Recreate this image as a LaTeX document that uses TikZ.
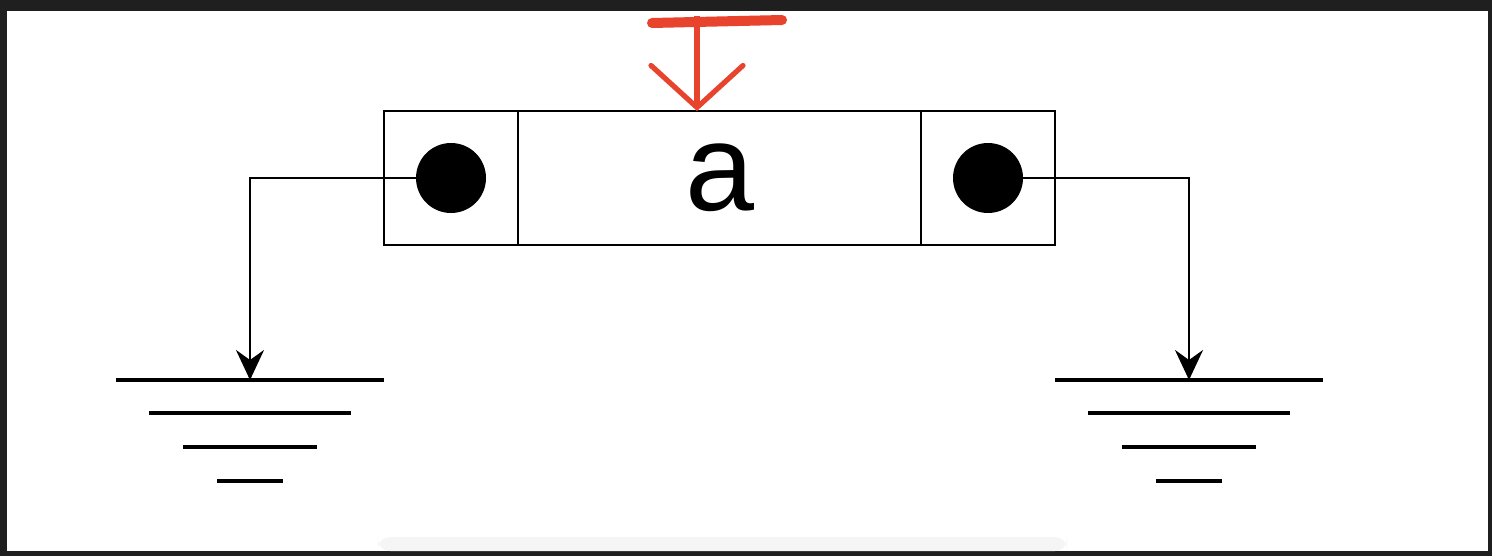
\documentclass[tikz,border=0pt]{standalone}
\usepackage{fontspec}
\setmainfont{Liberation Sans}
\usetikzlibrary{positioning,arrows.meta}

\definecolor{frame}{HTML}{1F1F1F}
\definecolor{pen}{HTML}{E8432D}

\begin{document}
\begin{tikzpicture}[x=0.5pt, y=-0.5pt,
    cell/.style={draw, line width=1.2pt, rectangle, inner sep=0, outer sep=0, minimum height=67pt},
    dot/.style={circle, fill=black, inner sep=0, minimum size=35pt},
    wire/.style={line width=1.2pt, -{Stealth[length=15pt, width=14pt, inset=5pt]}},
    gnd/.style={line width=1.7pt}]
    \useasboundingbox (0,0) rectangle (1492,556);
    % screenshot frame
    \fill[frame] (0,0) rectangle (1492,556);
    \fill[white] (7,11) rectangle (1488,551);
    \fill[black!4, rounded corners=6pt] (378,537) rectangle (1067,551);

    \begin{scope}[font=\fontsize{62}{62}\selectfont]
    \node[cell, minimum width=67pt] (lcell) at (451,178) {};
    \node[cell, minimum width=201.5pt, right=0pt of lcell] (vcell) {\raisebox{-2pt}{a}};
    \node[cell, minimum width=67pt, right=0pt of vcell] (rcell) {};
    \end{scope}

    \node[dot] (ldot) at (lcell.center) {};
    \node[dot] (rdot) at (rcell.center) {};

    % grounds
    \coordinate (lgnd) at (250,380);
    \coordinate (rgnd) at (1189,380);
    \foreach \g in {lgnd, rgnd} {
      \draw[gnd] ([shift={(-134,0)}]\g) -- ([shift={(134,0)}]\g);
      \draw[gnd] ([shift={(-101,33)}]\g) -- ([shift={(101,33)}]\g);
      \draw[gnd] ([shift={(-67,67)}]\g) -- ([shift={(67,67)}]\g);
      \draw[gnd] ([shift={(-33,101)}]\g) -- ([shift={(33,101)}]\g);
    }

    \draw[wire] (ldot.center) -| (lgnd);
    \draw[wire] (rdot.center) -| (rgnd);

    % red mark
    \coordinate (tl) at (652,23);
    \coordinate (tr) at (782,20);
    \coordinate (ttop) at (697,16);
    \draw[pen, line width=5pt, line cap=round] (tl) -- (tr);
    \draw[pen, line width=2.6pt, -{Straight Barb[length=21pt, width=46pt, line cap=round]}] (ttop) -- (vcell.north -| ttop);
\end{tikzpicture}
\end{document}
